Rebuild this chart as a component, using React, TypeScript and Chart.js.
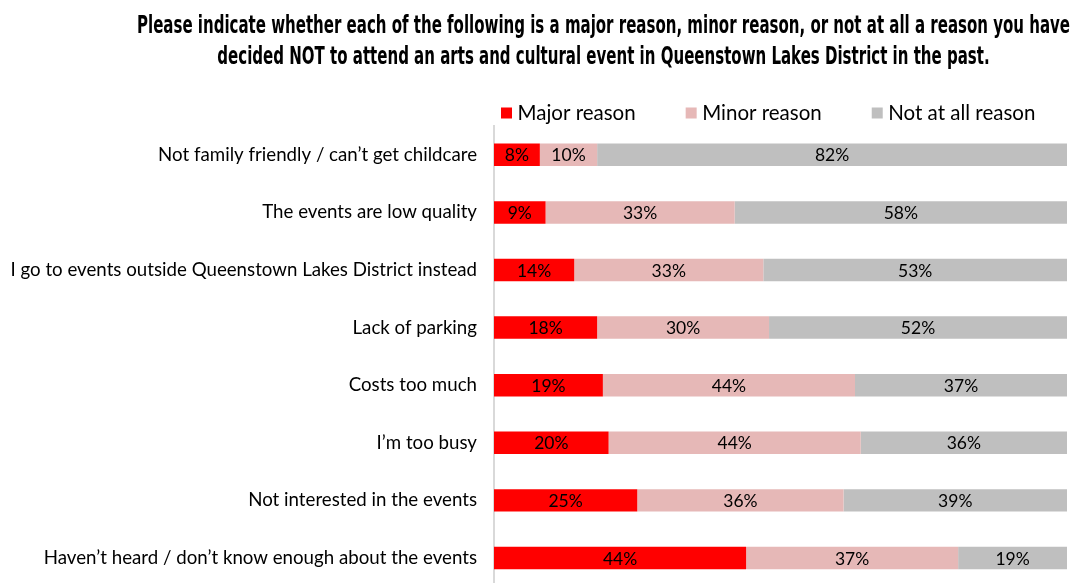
import React, { useEffect, useRef } from "react";
import { Chart, registerables } from "chart.js";

Chart.register(...registerables);

const titleLines = [
  "Please indicate whether each of the following is a major reason, minor reason, or not at all a reason you have",
  "decided NOT to attend an arts and cultural event in Queenstown Lakes District in the past.",
];

const categories = [
  "Not family friendly / can\u2019t get childcare",
  "The events are low quality",
  "I go to events outside Queenstown Lakes District instead",
  "Lack of parking",
  "Costs too much",
  "I\u2019m too busy",
  "Not interested in the events",
  "Haven\u2019t heard / don\u2019t know enough about the events",
];

const seriesNames = ["Major reason", "Minor reason", "Not at all reason"];
const majorValues = [8, 9, 14, 18, 19, 20, 25, 44];
const minorValues = [10, 33, 33, 30, 44, 44, 36, 37];
const notValues = [82, 58, 53, 52, 37, 36, 39, 19];
const seriesColors = ["#FF0000", "#E6B8B7", "#BFBFBF"];

const LABEL_FONT = "Lato, 'Open Sans', sans-serif";
const TITLE_FONT = "'Liberation Sans Narrow', 'DejaVu Sans Condensed', 'DejaVu Sans', sans-serif";

const titlePlugin = {
  id: "customTitle",
  afterDraw(chart: any) {
    const ctx = chart.ctx;
    ctx.save();
    ctx.font = `bold 24.5px ${TITLE_FONT}`;
    ctx.fillStyle = "#000";
    ctx.textAlign = "center";
    ctx.textBaseline = "alphabetic";
    const w0 = ctx.measureText(titleLines[0]).width;
    const sx = 933 / w0;
    const cx = 603.5;
    const baselines = [33, 64];
    titleLines.forEach((line, i) => {
      ctx.save();
      ctx.translate(cx, baselines[i]);
      ctx.scale(sx, 1);
      ctx.fillText(line, 0, 0);
      ctx.restore();
    });
    ctx.restore();
  },
};

const legendPlugin = {
  id: "customLegend",
  afterDraw(chart: any) {
    const ctx = chart.ctx;
    const area = chart.chartArea;
    ctx.save();
    ctx.font = `20.5px ${LABEL_FONT}`;
    ctx.textBaseline = "middle";
    ctx.textAlign = "left";
    let x = area.left + 7;
    const y = area.top - 13;
    chart.data.datasets.forEach((ds: any) => {
      ctx.fillStyle = ds.backgroundColor;
      ctx.fillRect(x, y - 5.5, 11, 11);
      ctx.fillStyle = "#000";
      ctx.fillText(ds.label, x + 16.5, y);
      x += 16.5 + ctx.measureText(ds.label).width + 50;
    });
    ctx.restore();
  },
};

const dataLabelPlugin = {
  id: "segmentLabels",
  afterDatasetsDraw(chart: any) {
    const ctx = chart.ctx;
    ctx.save();
    ctx.font = `17.5px ${LABEL_FONT}`;
    ctx.fillStyle = "#000";
    ctx.textAlign = "center";
    ctx.textBaseline = "middle";
    chart.data.datasets.forEach((ds: any, di: number) => {
      const meta = chart.getDatasetMeta(di);
      meta.data.forEach((el: any, i: number) => {
        const p = el.getProps(["x", "y", "base"], true);
        ctx.fillText(ds.data[i] + "%", (p.x + p.base) / 2, p.y + 1);
      });
    });
    ctx.restore();
  },
};

export default function App() {
  const ref = useRef<HTMLCanvasElement>(null);
  useEffect(() => {
    if (!ref.current) return;
    const values = [majorValues, minorValues, notValues];
    const chart = new Chart(ref.current, {
      type: "bar",
      data: {
        labels: categories,
        datasets: seriesNames.map((name, i) => ({
          label: name,
          data: values[i],
          backgroundColor: seriesColors[i],
          borderWidth: 0,
          barPercentage: 0.39,
          categoryPercentage: 1,
        })),
      },
      options: {
        indexAxis: "y",
        animation: false,
        responsive: false,
        maintainAspectRatio: false,
        layout: { padding: { top: 126, bottom: 0, left: 0, right: 5 } },
        plugins: {
          legend: { display: false },
          title: { display: false },
          tooltip: { enabled: false },
        },
        scales: {
          x: {
            stacked: true,
            min: 0,
            max: 100,
            display: false,
          },
          y: {
            stacked: true,
            grid: { display: false, drawTicks: false },
            border: { display: true, color: "#D9D9D9", width: 2 },
            ticks: {
              padding: 17,
              color: "#000",
              font: { family: LABEL_FONT, size: 18.7 },
            },
            afterFit(scale: any) {
              scale.width = 494;
            },
          },
        },
      },
      plugins: [titlePlugin, legendPlugin, dataLabelPlugin],
    });
    return () => chart.destroy();
  }, []);
  return (
    <div
      style={{
        position: "fixed",
        left: 0,
        top: 0,
        width: 1072,
        height: 583,
        overflow: "hidden",
        background: "#fff",
      }}
    >
      <canvas ref={ref} width={1072} height={615} style={{ display: "block" }} />
    </div>
  );
}
